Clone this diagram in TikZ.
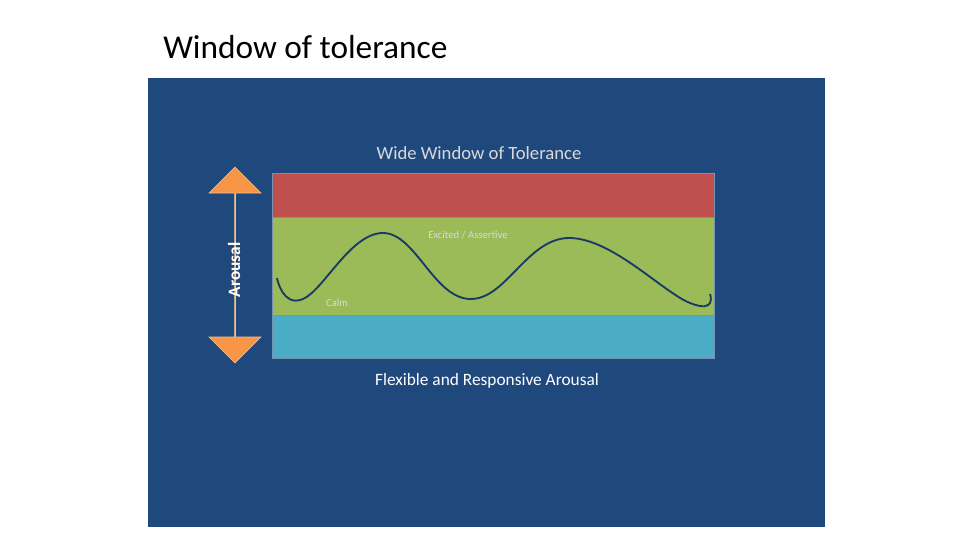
\documentclass[tikz,border=0pt]{standalone}
\usepackage{fontspec}
\setmainfont{Carlito}
\usetikzlibrary{shapes.arrows}
\definecolor{panel}{HTML}{1F497D}
\definecolor{redb}{HTML}{C0504D}
\definecolor{greenb}{HTML}{9BBB59}
\definecolor{blueb}{HTML}{4BACC6}
\definecolor{orangea}{HTML}{F79646}
\definecolor{lgray}{HTML}{D9D9D9}
\tikzset{band/.style={draw=panel!60!white,line width=0.8pt}}
\begin{document}
\begin{tikzpicture}[x=0.75pt,y=-0.75pt]
\useasboundingbox[fill=white] (0,0) rectangle (960,540);
\node[anchor=base west,inner sep=0,font=\fontsize{25}{28}\selectfont] (title) at (163,58) {Window of tolerance};
\fill[panel] (148,78) rectangle (825,527);
\node[band,fill=redb,minimum width=442*0.75pt,minimum height=44*0.75pt,inner sep=0,anchor=north west] (red) at (272,173) {};
\node[band,fill=greenb,minimum width=442*0.75pt,minimum height=98*0.75pt,inner sep=0,anchor=north west] (green) at (272,217) {};
\node[band,fill=blueb,minimum width=442*0.75pt,minimum height=43*0.75pt,inner sep=0,anchor=north west] (blue) at (272,315) {};
\draw[panel!80!black,line width=1.4pt] plot[smooth,tension=0.7] coordinates {(277,278) (303,299) (383,233) (470,299) (570,238) (690,303) (710,294)};
\node[double arrow,fill=orangea,draw=orangea!60!white,line width=0.4pt,rotate=90,minimum width=52*0.75pt,double arrow head extend=14*0.75pt,minimum height=196*0.75pt,inner sep=0] (arr) at (235,265) {};
\node[rotate=90,text=white,font=\fontsize{13}{15}\selectfont\bfseries] (ar) at (234,270) {Arousal};
\node[text=lgray,font=\fontsize{14}{16}\selectfont] (wide) at (479,153) {Wide Window of Tolerance};
\node[text=white,font=\fontsize{13}{15}\selectfont] (flex) at (487,381) {Flexible and Responsive Arousal};
\node[text=lgray,font=\fontsize{8}{9}\selectfont] (exc) at (468,235) {Excited / Assertive};
\node[text=lgray,font=\fontsize{8}{9}\selectfont] (calm) at (337,303) {Calm};
\end{tikzpicture}
\end{document}
